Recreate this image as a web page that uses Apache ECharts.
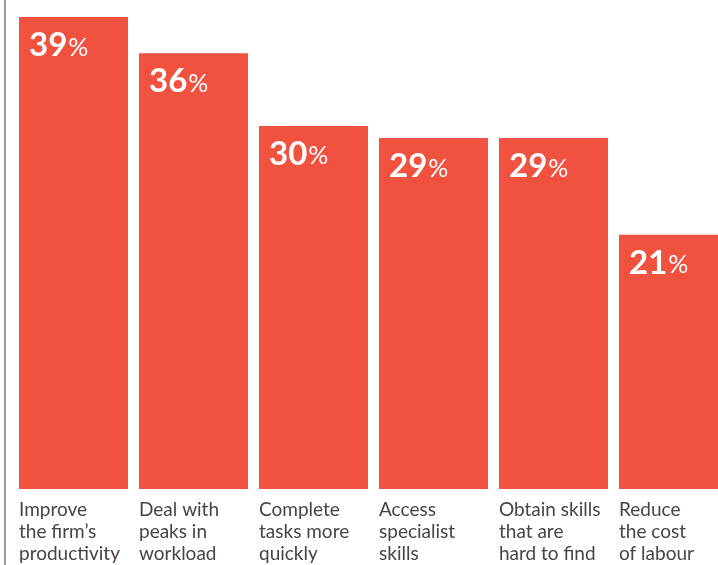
<!DOCTYPE html>
<html>
<head>
<meta charset="utf-8">
<style>
  html, body { margin: 0; padding: 0; background: #ffffff; }
  #chart { width: 718px; height: 565px; }
</style>
<script src="https://cdn.jsdelivr.net/npm/echarts@6/dist/echarts.min.js"></script>
</head>
<body>
<div id="chart"></div>
<script>
// Reasons firms give, share of respondents (%)
const categories = [
  'Improve\nthe firm\u2019s\nproductivity',
  'Deal with\npeaks in\nworkload',
  'Complete\ntasks more\nquickly',
  'Access\nspecialist\nskills',
  'Obtain skills\nthat are\nhard to find',
  'Reduce\nthe cost\nof labour'
];
const shares = [39, 36, 30, 29, 29, 21];

const RED = '#F15240';
const TEXT = '#4a4340';
const FONT = 'Lato, "Noto Sans", sans-serif';

const chart = echarts.init(document.getElementById('chart'), null, { renderer: 'canvas' });

chart.setOption({
  animation: false,
  backgroundColor: '#ffffff',
  grid: { left: 13.5, top: 0, width: 720, height: 489, containLabel: false, outerBoundsMode: 'none' },
  xAxis: {
    type: 'category',
    data: categories,
    axisLine: { show: false },
    axisTick: { show: false },
    axisLabel: {
      interval: 0,
      margin: 10,
      align: 'center',
      formatter: function (v) {
        return v.split('\n').map(function (s) { return '{t|' + s + '}'; }).join('\n');
      },
      rich: {
        t: { width: 109, align: 'left', fontFamily: FONT, fontSize: 19, lineHeight: 22, color: TEXT }
      }
    }
  },
  yAxis: {
    type: 'value',
    min: 0,
    max: 40.4,
    show: false,
    splitLine: { show: false }
  },
  series: [{
    type: 'bar',
    data: shares,
    barWidth: 109,
    itemStyle: { color: RED },
    label: {
      show: true,
      position: 'insideTopLeft',
      distance: 10,
      offset: [0, -1],
      formatter: function (p) { return '{n|' + p.value + '}{p|%}'; },
      rich: {
        n: { fontFamily: FONT, fontWeight: 'bold', fontSize: 33, color: '#ffffff', lineHeight: 36, verticalAlign: 'bottom' },
        p: { fontFamily: FONT, fontWeight: 'normal', fontSize: 25, color: '#ffffff', lineHeight: 36, verticalAlign: 'bottom', padding: [0, 0, 2, 1] }
      }
    }
  }],
  graphic: [{
    type: 'line',
    shape: { x1: 5, y1: 0, x2: 5, y2: 565 },
    style: { stroke: '#a19b95', lineWidth: 2 },
    silent: true
  }]
});
</script>
</body>
</html>
